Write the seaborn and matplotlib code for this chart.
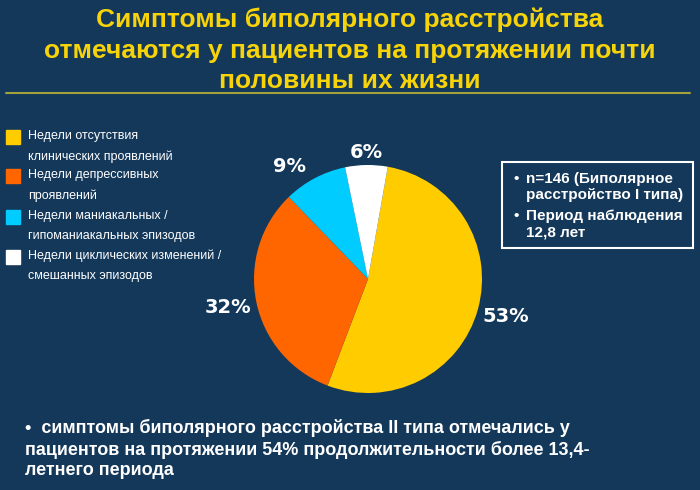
import numpy as np
import seaborn as sns
import matplotlib.pyplot as plt
from matplotlib.patches import Rectangle

# data
categories = ['Недели отсутствия\nклинических проявлений',
              'Недели депрессивных\nпроявлений',
              'Недели маниакальных /\nгипоманиакальных эпизодов',
              'Недели циклических изменений /\nсмешанных эпизодов']
shares = [53, 32, 9, 6]
colors = ['#FFCC00', '#FF6600', '#00CCFF', '#FFFFFF']

title = ('Симптомы биполярного расстройства\n'
         'отмечаются у пациентов на протяжении почти\n'
         'половины их жизни')
box_lines = ['n=146 (Биполярное\nрасстройство I типа)', 'Период наблюдения\n12,8 лет']
note = ('•  симптомы биполярного расстройства II типа отмечались у\n'
        'пациентов на протяжении 54% продолжительности более 13,4-\n'
        'летнего периода')

bg = '#13385A'
sns.set_style('dark')
plt.rcParams['font.family'] = ['Liberation Sans', 'DejaVu Sans']

fig = plt.figure(figsize=(7, 4.9), dpi=100, facecolor=bg)

# title
fig.text(0.5, 0.984, title, ha='center', va='top', color='#F7D30A',
         fontsize=19, fontweight='bold', linespacing=1.33)
fig.add_artist(plt.Line2D([0.008, 0.985], [1 - 93/490, 1 - 93/490],
                          color='#A4A23C', lw=1.5))

# pie
ax = fig.add_axes([254/700, 1 - 393/490, 228/700, 228/490])
ax.set_facecolor(bg)
wedges, _ = ax.pie(shares, colors=colors, startangle=80, counterclock=False,
                   wedgeprops=dict(linewidth=0))
ax.set_xlim(-1, 1)
ax.set_ylim(-1, 1)
ax.axis('off')

label_dist = [1.25, 1.25, 1.2, 1.11]
label_shift = [0, 0, 7, 0]
for w, v, d, s in zip(wedges, shares, label_dist, label_shift):
    ang = np.deg2rad((w.theta1 + w.theta2) / 2 + s)
    ax.text(d * np.cos(ang), d * np.sin(ang), f'{v}%', ha='center', va='center',
            color='white', fontsize=14, fontweight='bold', family='DejaVu Sans')

# legend
ys = [137, 176, 217, 257]
for c, lab, y in zip(colors, categories, ys):
    fig.add_artist(Rectangle((6/700, 1 - (y + 7)/490), 14/700, 14/490,
                             color=c, transform=fig.transFigure))
    fig.text(28/700, 1 - (y - 7)/490, lab, ha='left', va='top', color='white',
             fontsize=9, linespacing=1.85)

# info box
fig.add_artist(Rectangle((502/700, 1 - 248/490), 191/700, 86/490, fill=False,
                         edgecolor='white', lw=1.5, transform=fig.transFigure))
for i, t in enumerate(box_lines):
    y = 172 + i * 37
    fig.text(513/700, 1 - y/490, '•', ha='left', va='top', color='white',
             fontsize=11, fontweight='bold')
    fig.text(526/700, 1 - y/490, t, ha='left', va='top', color='white',
             fontsize=11, fontweight='bold', linespacing=1.2)

# note
fig.text(25/700, 1 - 419/490, note, ha='left', va='top', color='white',
         fontsize=13, fontweight='bold', linespacing=1.25)

fig.savefig('out.png', dpi=100, facecolor=bg)
